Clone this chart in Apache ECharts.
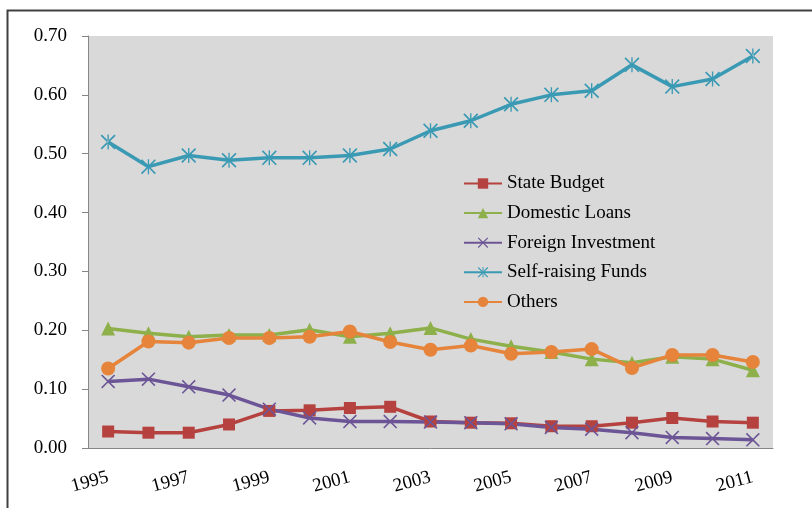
<!DOCTYPE html>
<html>
<head>
<meta charset="utf-8">
<script src="https://cdn.jsdelivr.net/npm/echarts@6/dist/echarts.min.js"></script>
<style>html,body{margin:0;padding:0;background:#fff}#c{width:812px;height:508px}</style>
</head>
<body>
<div id="c"></div>
<script>
const years = ['1995','1996','1997','1998','1999','2000','2001','2002','2003','2004','2005','2006','2007','2008','2009','2010','2011'];
const yTicks = [0, 0.1, 0.2, 0.3, 0.4, 0.5, 0.6, 0.7];
const stateBudget = [0.028,0.026,0.026,0.040,0.063,0.064,0.068,0.070,0.045,0.043,0.042,0.037,0.037,0.043,0.051,0.045,0.043];
const domesticLoans = [0.203,0.195,0.189,0.192,0.192,0.201,0.189,0.195,0.204,0.185,0.173,0.163,0.151,0.145,0.155,0.151,0.132];
const foreignInvestment = [0.113,0.117,0.104,0.090,0.066,0.051,0.045,0.045,0.044,0.043,0.041,0.035,0.032,0.026,0.018,0.016,0.014];
const selfRaising = [0.520,0.478,0.497,0.489,0.493,0.493,0.497,0.508,0.539,0.556,0.584,0.600,0.607,0.651,0.614,0.627,0.666];
const others = [0.135,0.181,0.179,0.187,0.187,0.189,0.198,0.180,0.167,0.174,0.160,0.163,0.168,0.136,0.158,0.158,0.146];

const font = 'Liberation Serif';
const xPath = 'path://M0,0.8 L0.8,0 L5,4.2 L9.2,0 L10,0.8 L5.8,5 L10,9.2 L9.2,10 L5,5.8 L0.8,10 L0,9.2 L4.2,5 Z';
const starPath = 'path://M0,0.8 L0.8,0 L5,4.2 L9.2,0 L10,0.8 L5.8,5 L10,9.2 L9.2,10 L5,5.8 L0.8,10 L0,9.2 L4.2,5 Z M4.55,0 L4.55,10 L5.45,10 L5.45,0 Z';

function mk(name, data, color, symbol, size) {
  return {
    name: name, type: 'line', data: data,
    symbol: symbol, symbolSize: size, showSymbol: true,
    lineStyle: { color: color, width: 3.5 },
    itemStyle: { color: color },
    emphasis: { disabled: true },
    animation: false
  };
}

const chart = echarts.init(document.getElementById('c'), null, { renderer: 'canvas' });
chart.setOption({
  animation: false,
  graphic: [{
    type: 'rect', z: 100,
    shape: { x: 7.5, y: 10.5, width: 900, height: 600 },
    style: { fill: 'none', stroke: '#404040', lineWidth: 2 }
  }],
  grid: {
    left: 88, right: 39, top: 36, bottom: 60,
    show: true, backgroundColor: '#d9d9d9', borderWidth: 0
  },
  legend: {
    orient: 'vertical', left: 463, top: 174, padding: 0,
    itemWidth: 38, itemHeight: 13, itemGap: 10.6,
    textStyle: { fontFamily: font, fontSize: 19, color: '#000' },
    data: ['State Budget','Domestic Loans','Foreign Investment','Self-raising Funds','Others']
  },
  xAxis: {
    type: 'category', data: years, boundaryGap: true,
    axisLine: { lineStyle: { color: '#868686', width: 1 } },
    axisTick: { interval: 0, length: 6, lineStyle: { color: '#868686' } },
    axisLabel: { interval: 1, rotate: 15, margin: 29, fontFamily: font, fontSize: 19, color: '#000' },
    splitLine: { show: false }
  },
  yAxis: {
    type: 'value', min: 0, max: 0.7, interval: 0.1,
    axisLine: { show: true, lineStyle: { color: '#868686', width: 1 } },
    axisTick: { show: true, length: 6, lineStyle: { color: '#868686' } },
    axisLabel: { margin: 21, fontFamily: font, fontSize: 19, color: '#000',
      formatter: v => v.toFixed(2) },
    splitLine: { show: false }
  },
  series: [
    mk('State Budget', stateBudget, '#b5423f', 'rect', 12),
    mk('Domestic Loans', domesticLoans, '#8eb04a', 'triangle', 14),
    mk('Foreign Investment', foreignInvestment, '#6c5596', xPath, 14),
    mk('Self-raising Funds', selfRaising, '#3a9ab4', starPath, 15),
    mk('Others', others, '#e5843a', 'circle', 14)
  ]
});
</script>
</body>
</html>
